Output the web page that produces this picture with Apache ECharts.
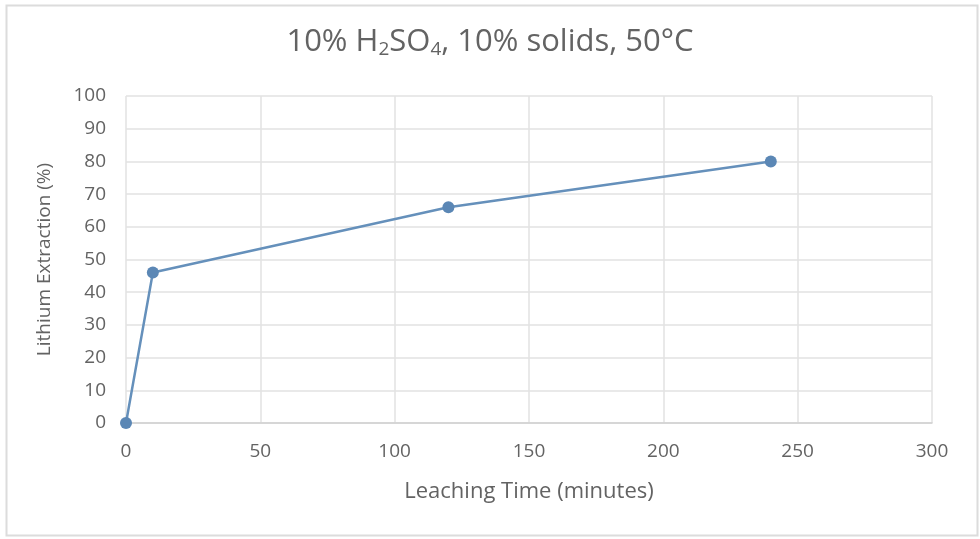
<!DOCTYPE html>
<html>
<head>
<meta charset="utf-8">
<script src="https://cdn.jsdelivr.net/npm/echarts@6/dist/echarts.min.js"></script>
<style>
html,body{margin:0;padding:0;background:#fff;}
#c{width:980px;height:539px;}
</style>
</head>
<body>
<div id="c"></div>
<script>
const timeMinutes = [0, 10, 120, 240];
const lithiumExtraction = [0, 46, 66, 80];
const xTicks = [0, 50, 100, 150, 200, 250, 300];
const yTicks = [0, 10, 20, 30, 40, 50, 60, 70, 80, 90, 100];

const chart = echarts.init(document.getElementById('c'));
const txt = '#636363';
chart.setOption({
  animation: false,
  backgroundColor: '#fff',
  graphic: [{
    type: 'rect', left: 4, top: 3, silent: true,
    shape: { width: 971, height: 530 },
    style: { fill: 'none', stroke: '#dcdcdc', lineWidth: 2 }
  }],
  title: {
    text: '10% H{sub|2}SO{sub|4}, 10% solids, 50°C',
    left: 'center',
    top: 20,
    textStyle: {
      fontFamily: 'Open Sans',
      fontSize: 31,
      fontWeight: 'normal',
      color: txt,
      rich: {
        sub: { fontFamily: 'Open Sans', fontSize: 19, color: txt, verticalAlign: 'bottom', padding: [15, 0, 0, 0] }
      }
    }
  },
  grid: { left: 126, right: 48, top: 96, bottom: 116 },
  xAxis: {
    type: 'value',
    min: 0, max: 300, interval: 50,
    name: 'Leaching Time (minutes)',
    nameLocation: 'middle',
    nameGap: 58,
    nameTextStyle: { fontFamily: 'Open Sans', fontSize: 22, color: txt },
    axisLine: { show: true, lineStyle: { color: '#d0d0d0', width: 1.5 } },
    axisTick: { show: false },
    axisLabel: { fontFamily: 'Open Sans', fontSize: 19, color: txt, margin: 19,
      formatter: v => xTicks.includes(v) ? String(v) : '' },
    splitLine: { show: true, lineStyle: { color: '#e2e2e2', width: 1.5 } }
  },
  yAxis: {
    type: 'value',
    min: 0, max: 100, interval: 10,
    name: 'Lithium Extraction (%)',
    nameLocation: 'middle',
    nameGap: 72,
    nameTextStyle: { fontFamily: 'Open Sans', fontSize: 19, color: txt },
    axisLine: { show: false },
    axisTick: { show: false },
    axisLabel: { fontFamily: 'Open Sans', fontSize: 19, color: txt, margin: 20,
      formatter: v => yTicks.includes(v) ? String(v) : '' },
    splitLine: { show: true, lineStyle: { color: '#e2e2e2', width: 1.5 } }
  },
  series: [{
    type: 'line',
    data: timeMinutes.map((t, i) => [t, lithiumExtraction[i]]),
    symbol: 'circle',
    symbolSize: 12,
    lineStyle: { color: '#6590bb', width: 2.5 },
    itemStyle: { color: '#5b87b5' }
  }]
});
</script>
</body>
</html>
